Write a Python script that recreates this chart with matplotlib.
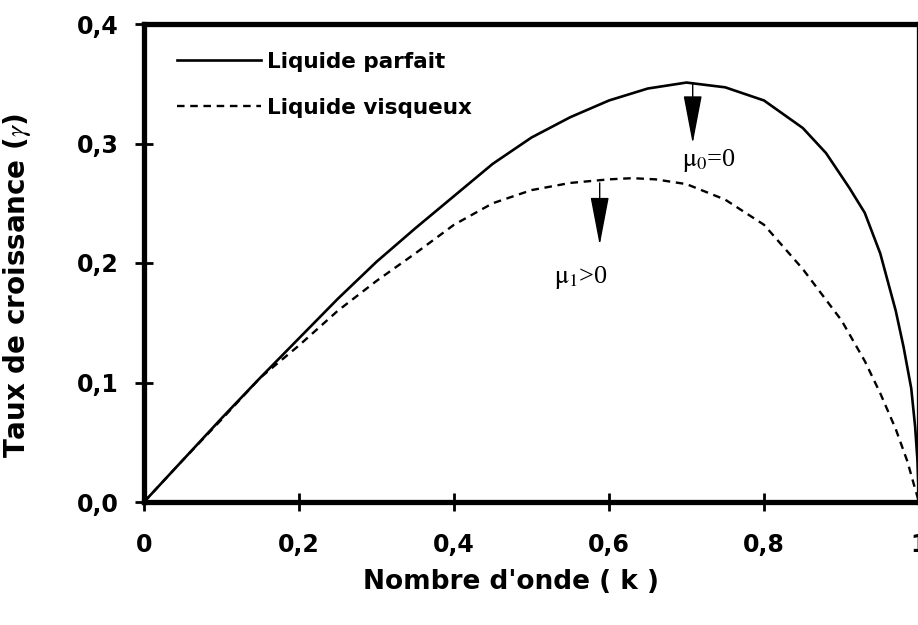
import matplotlib
matplotlib.use("Agg")
import matplotlib.pyplot as plt

plt.rcParams['mathtext.fontset'] = 'stix'

# growth rate curves
k_parfait = [0, 0.05, 0.10, 0.15, 0.20, 0.25, 0.30, 0.35, 0.40, 0.45, 0.50,
             0.55, 0.60, 0.65, 0.70, 0.75, 0.80, 0.85, 0.88, 0.91, 0.93,
             0.95, 0.97, 0.98, 0.99, 0.995, 0.998, 1.0]
g_parfait = [0, 0.035, 0.070, 0.104, 0.137, 0.170, 0.201, 0.229, 0.256, 0.283,
             0.305, 0.322, 0.336, 0.346, 0.351, 0.347, 0.336, 0.313, 0.292,
             0.263, 0.242, 0.208, 0.160, 0.130, 0.095, 0.063, 0.035, 0.0]

k_visqueux = [0, 0.05, 0.10, 0.15, 0.20, 0.25, 0.30, 0.35, 0.40, 0.45, 0.50,
              0.55, 0.60, 0.63, 0.66, 0.70, 0.75, 0.80, 0.85, 0.90, 0.93,
              0.95, 0.97, 0.985, 0.995, 1.0]
g_visqueux = [0, 0.035, 0.069, 0.104, 0.131, 0.160, 0.185, 0.208, 0.232, 0.250,
              0.261, 0.267, 0.270, 0.271, 0.270, 0.266, 0.253, 0.232, 0.195,
              0.152, 0.118, 0.091, 0.061, 0.034, 0.011, 0.0]

x_ticks = [0, 0.2, 0.4, 0.6, 0.8, 1.0]
x_ticklabels = ["0", "0,2", "0,4", "0,6", "0,8", "1"]
y_ticks = [0, 0.1, 0.2, 0.3, 0.4]
y_ticklabels = ["0,0", "0,1", "0,2", "0,3", "0,4"]

legend_labels = ["Liquide parfait", "Liquide visqueux"]

# arrows marking the maxima: (k, start, end) and their labels
arrow_parfait = (0.708, 0.351, 0.300)
arrow_visqueux = (0.588, 0.267, 0.215)
label_parfait = (0.729, 0.286, r'$\mathrm{\mu}_0$=0')
label_visqueux = (0.564, 0.188, r'$\mathrm{\mu}_1$>0')

fig = plt.figure(figsize=(9.18, 6.25), dpi=100)
ax = fig.add_axes([144/918, 123/625, 775/918, 478/625])

ax.plot(k_parfait, g_parfait, color='black', lw=1.9)
ax.plot(k_visqueux, g_visqueux, color='black', lw=1.7, dashes=(3.2, 2.4))

ax.set_xlim(0, 1)
ax.set_ylim(0, 0.4)

for side in ['left', 'bottom', 'top', 'right']:
    ax.spines[side].set_linewidth(3.8)

ax.set_xticks(x_ticks)
ax.set_xticklabels(x_ticklabels)
ax.set_yticks(y_ticks)
ax.set_yticklabels(y_ticklabels)
ax.tick_params(axis='x', direction='inout', length=13, width=2, pad=16, labelsize=17)
ax.tick_params(axis='y', direction='inout', length=13, width=2, pad=12, labelsize=17)
for lab in ax.get_xticklabels() + ax.get_yticklabels():
    lab.set_fontweight('bold')

ax.set_xlabel("Nombre d'onde ( k )", fontsize=19, fontweight='bold')
ax.set_ylabel(r"Taux de croissance ($\gamma$)", fontsize=20, fontweight='bold')
ax.xaxis.set_label_coords(0.474, -0.140)
ax.yaxis.set_label_coords(-0.143, 0.452)

# legend
h1, = ax.plot([], [], color='black', lw=1.9)
h2, = ax.plot([], [], color='black', lw=1.7, dashes=(3.2, 2.4))
ax.legend([h1, h2], legend_labels, loc='upper left', bbox_to_anchor=(0.043, 0.942),
          frameon=False, borderpad=0, borderaxespad=0, handlelength=3.9,
          handletextpad=0.25, labelspacing=1.2,
          prop={'weight': 'bold', 'size': 15.5})

# arrows and labels
for kx, y0, y1 in [arrow_parfait, arrow_visqueux]:
    ax.annotate('', xy=(kx, y1), xytext=(kx, y0),
                arrowprops=dict(arrowstyle='-|>,head_length=2.2,head_width=0.42',
                                mutation_scale=14, lw=1.0, color='black',
                                shrinkA=0, shrinkB=0))
for kx, gy, txt in [label_parfait, label_visqueux]:
    ax.text(kx, gy, txt, ha='center', va='center', fontsize=19,
            family='Liberation Serif')

fig.savefig("out.png", dpi=100)
